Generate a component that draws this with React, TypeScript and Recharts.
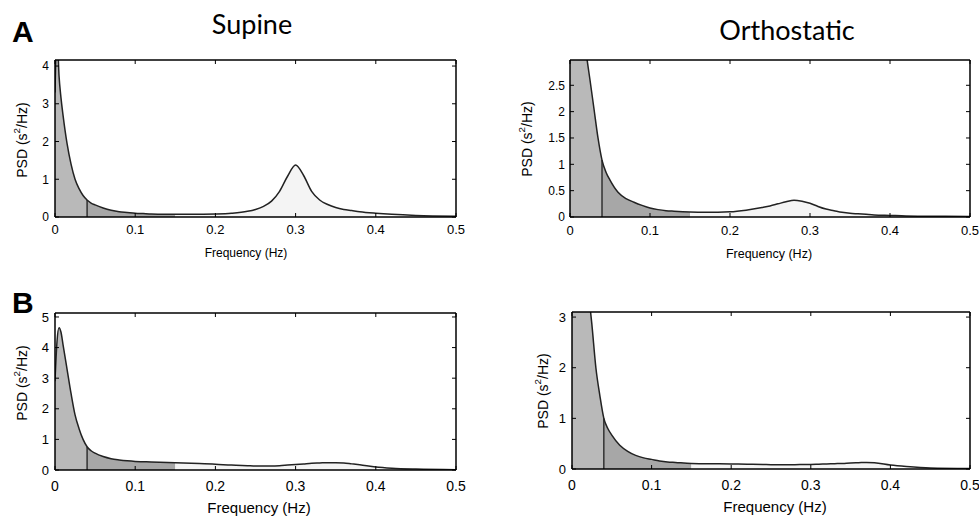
import React from "react";
import { ComposedChart, Area, Line, XAxis, YAxis, ReferenceLine } from "recharts";

// frequency grid (Hz), shared by all four spectra
const freq = [
  0, 0.0025, 0.005, 0.0075, 0.01, 0.015, 0.02, 0.025, 0.03, 0.035, 0.04, 0.045,
  0.05, 0.06, 0.07, 0.08, 0.09, 0.1, 0.11, 0.12, 0.13, 0.15, 0.17, 0.2, 0.22,
  0.24, 0.25, 0.26, 0.27, 0.28, 0.29, 0.3, 0.31, 0.32, 0.33, 0.34, 0.35, 0.36,
  0.37, 0.38, 0.4, 0.42, 0.45, 0.5,
];

// PSD values (s^2/Hz)
const supineA = [
  3.3, 4.9, 3.75, 3.15, 2.7, 1.95, 1.4, 1.0, 0.75, 0.57, 0.45, 0.37,
  0.32, 0.24, 0.18, 0.14, 0.12, 0.1, 0.09, 0.08, 0.075, 0.07, 0.07, 0.08, 0.1,
  0.15, 0.2, 0.28, 0.42, 0.68, 1.08, 1.38, 1.1, 0.68, 0.45, 0.33, 0.25, 0.2,
  0.17, 0.14, 0.1, 0.07, 0.04, 0.02,
];
const orthoA = [
  10, 8.5, 7, 6, 5.1, 3.9, 3.15, 2.6, 2.05, 1.5, 1.08, 0.85,
  0.7, 0.47, 0.35, 0.28, 0.22, 0.17, 0.14, 0.12, 0.11, 0.095, 0.09, 0.1, 0.13,
  0.18, 0.21, 0.25, 0.29, 0.32, 0.3, 0.26, 0.2, 0.15, 0.12, 0.09, 0.07, 0.06,
  0.05, 0.04, 0.03, 0.02, 0.015, 0.01,
];
const supineB = [
  2.9, 4.2, 4.65, 4.5, 4.1, 3.3, 2.5, 1.8, 1.35, 1.0, 0.76, 0.63,
  0.55, 0.44, 0.37, 0.33, 0.3, 0.28, 0.27, 0.26, 0.255, 0.24, 0.22, 0.19, 0.16,
  0.14, 0.13, 0.13, 0.13, 0.14, 0.16, 0.18, 0.2, 0.22, 0.23, 0.24, 0.24, 0.23,
  0.2, 0.17, 0.1, 0.06, 0.03, 0.01,
];
const orthoB = [
  10, 8.5, 7, 6.2, 5.5, 4.4, 3.6, 2.85, 2.0, 1.45, 1.0, 0.8,
  0.67, 0.47, 0.35, 0.27, 0.22, 0.19, 0.16, 0.14, 0.13, 0.11, 0.105, 0.1, 0.095,
  0.09, 0.085, 0.085, 0.085, 0.085, 0.088, 0.09, 0.095, 0.1, 0.105, 0.11, 0.12, 0.125,
  0.13, 0.125, 0.08, 0.05, 0.02, 0.01,
];

const freqTicks = [0, 0.1, 0.2, 0.3, 0.4, 0.5];
const supineATicks = [0, 1, 2, 3, 4];
const orthoATicks = [0, 0.5, 1, 1.5, 2, 2.5];
const supineBTicks = [0, 1, 2, 3, 4, 5];
const orthoBTicks = [0, 1, 2, 3];

const VLF_END = 0.04;
const LF_END = 0.15;
const HF_END = 0.4;

const VLF_FILL = "#b9b9b9";
const LF_FILL = "#a7a7a7";
const HF_FILL = "#f4f4f4";
const FONT = "'Liberation Sans', Arial, sans-serif";

function buildRows(psd: number[]) {
  return freq.map((f, i) => ({
    f,
    psd: psd[i],
    vlf: f <= VLF_END ? psd[i] : null,
    lf: f >= VLF_END && f <= LF_END ? psd[i] : null,
    hf: f >= LF_END && f <= HF_END ? psd[i] : null,
  }));
}

function YLabel({ labelX, labelY, size }: any) {
  return (
    <text
      x={labelX}
      y={labelY}
      transform={`rotate(-90 ${labelX} ${labelY})`}
      textAnchor="middle"
      dominantBaseline="central"
      fontSize={size}
      fontFamily={FONT}
      fill="#000"
    >
      PSD (s
      <tspan dy={-size * 0.4} fontSize={size * 0.7}>
        2
      </tspan>
      <tspan dy={size * 0.4}>/Hz)</tspan>
    </text>
  );
}

function XLabel({ labelX, labelY, size }: any) {
  return (
    <text x={labelX} y={labelY} textAnchor="middle" fontSize={size} fontFamily={FONT} fill="#000">
      Frequency (Hz)
    </text>
  );
}

type PanelProps = {
  psd: number[];
  yTicks: number[];
  yMax: number;
  left: number;
  top: number;
  width: number;
  height: number;
  yAxisWidth: number;
  rightMargin: number;
  xAxisHeight: number;
  xFont: number;
  yFont: number;
  xTickMargin: number;
  yTickMargin: number;
  xLab: [number, number, number];
  yLab: [number, number, number];
};

function Panel(p: PanelProps) {
  const rows = buildRows(p.psd);
  const vlfEdge = rows.find((r) => r.f === VLF_END)!.psd;
  const frame = { stroke: "#000", strokeWidth: 1.5 };
  return (
    <div style={{ position: "absolute", left: p.left, top: p.top }}>
      <ComposedChart
        width={p.width}
        height={p.height}
        data={rows}
        margin={{ top: 9, right: p.rightMargin - 1, left: 0, bottom: 0 }}
      >
        <XAxis
          dataKey="f"
          type="number"
          domain={[0, 0.5]}
          ticks={freqTicks}
          interval={0}
          allowDataOverflow
          height={p.xAxisHeight}
          axisLine={frame}
          tickLine={{ stroke: "#000" }}
          tickSize={-4}
          tickMargin={p.xTickMargin}
          tick={{ fontSize: p.xFont, fontFamily: FONT, fill: "#000" }}
          label={<XLabel labelX={p.xLab[0]} labelY={p.xLab[1]} size={p.xLab[2]} />}
        />
        {/* top and right axes only close the box with inward ticks */}
        <XAxis
          xAxisId="top"
          dataKey="f"
          orientation="top"
          type="number"
          domain={[0, 0.5]}
          ticks={freqTicks}
          interval={0}
          allowDataOverflow
          height={1}
          axisLine={frame}
          tickLine={{ stroke: "#000" }}
          tickSize={-4}
          tickFormatter={() => ""}
        />
        <YAxis
          type="number"
          domain={[0, p.yMax]}
          ticks={p.yTicks}
          interval={0}
          allowDataOverflow
          width={p.yAxisWidth}
          axisLine={frame}
          tickLine={{ stroke: "#000" }}
          tickSize={-4}
          tickMargin={p.yTickMargin}
          tick={{ fontSize: p.yFont, fontFamily: FONT, fill: "#000" }}
          label={<YLabel labelX={p.yLab[0]} labelY={p.yLab[1]} size={p.yLab[2]} />}
        />
        <YAxis
          yAxisId="right"
          orientation="right"
          type="number"
          domain={[0, p.yMax]}
          ticks={p.yTicks}
          interval={0}
          allowDataOverflow
          width={1}
          axisLine={frame}
          tickLine={{ stroke: "#000" }}
          tickSize={-4}
          tickFormatter={() => ""}
        />
        <Area dataKey="vlf" type="monotone" fill={VLF_FILL} fillOpacity={1} stroke="none" isAnimationActive={false} />
        <Area dataKey="lf" type="monotone" fill={LF_FILL} fillOpacity={1} stroke="none" isAnimationActive={false} />
        <Area dataKey="hf" type="monotone" fill={HF_FILL} fillOpacity={1} stroke="none" isAnimationActive={false} />
        <ReferenceLine
          segment={[
            { x: VLF_END, y: 0 },
            { x: VLF_END, y: vlfEdge },
          ]}
          stroke="#111"
          strokeWidth={1.2}
        />
        <Line dataKey="psd" type="monotone" stroke="#222" strokeWidth={1.5} dot={false} isAnimationActive={false} />
        <Line
          xAxisId="top"
          yAxisId="right"
          dataKey="psd"
          stroke="none"
          dot={false}
          activeDot={false}
          legendType="none"
          isAnimationActive={false}
        />
      </ComposedChart>
    </div>
  );
}

export default function App() {
  return (
    <div style={{ position: "absolute", left: 0, top: 0, width: 979, height: 517, background: "#fff" }}>
      <svg width={979} height={517} style={{ position: "absolute", left: 0, top: 0 }}>
        <text x={12} y={42} fontSize={30} fontWeight="bold" fontFamily={FONT}>A</text>
        <text x={12} y={313} fontSize={30} fontWeight="bold" fontFamily={FONT}>B</text>
        <text x={252} y={34} textAnchor="middle" fontSize={27} fontFamily="Lato, sans-serif">Supine</text>
        <text x={787} y={40} textAnchor="middle" fontSize={27} fontFamily="Lato, sans-serif">Orthostatic</text>
      </svg>
      <Panel
        psd={supineA}
        yTicks={supineATicks}
        yMax={4.16}
        left={0}
        top={50}
        width={470}
        height={220}
        yAxisWidth={55}
        rightMargin={14}
        xAxisHeight={53}
        xFont={13}
        yFont={12}
        xTickMargin={12}
        yTickMargin={10}
        xLab={[246, 207, 12]}
        yLab={[22, 90, 14]}
      />
      <Panel
        psd={orthoA}
        yTicks={orthoATicks}
        yMax={2.98}
        left={490}
        top={50}
        width={489}
        height={220}
        yAxisWidth={80}
        rightMargin={9}
        xAxisHeight={53}
        xFont={13}
        yFont={12}
        xTickMargin={13}
        yTickMargin={9}
        xLab={[279, 208, 12.5]}
        yLab={[37, 89, 14]}
      />
      <Panel
        psd={supineB}
        yTicks={supineBTicks}
        yMax={5.13}
        left={0}
        top={303}
        width={470}
        height={214}
        yAxisWidth={55}
        rightMargin={14}
        xAxisHeight={47}
        xFont={14}
        yFont={13}
        xTickMargin={15}
        yTickMargin={10}
        xLab={[259, 210, 15]}
        yLab={[22, 80, 14]}
      />
      <Panel
        psd={orthoB}
        yTicks={orthoBTicks}
        yMax={3.1}
        left={490}
        top={302}
        width={489}
        height={215}
        yAxisWidth={82}
        rightMargin={9}
        xAxisHeight={48}
        xFont={14}
        yFont={13}
        xTickMargin={15}
        yTickMargin={10}
        xLab={[285, 210, 15]}
        yLab={[53, 89, 14]}
      />
    </div>
  );
}
